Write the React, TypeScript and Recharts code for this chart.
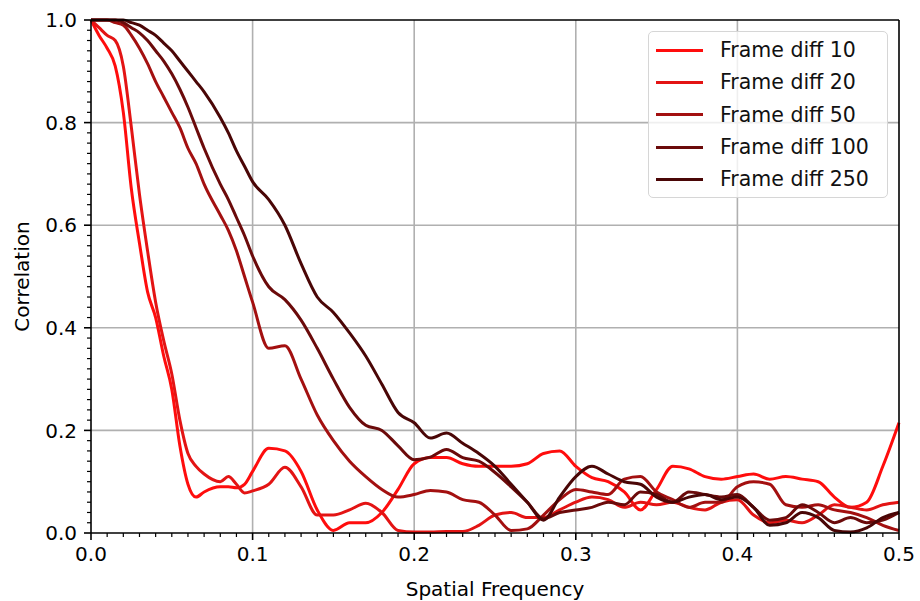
import { LineChart, Line, XAxis, YAxis, ReferenceLine, Legend } from 'recharts';

// spatial frequency samples (denser near 0 where the curves drop fast)
const freq = [
    0, 0.005, 0.01, 0.015, 0.02, 0.025, 0.03, 0.035, 0.04, 0.045, 0.05, 0.055, 0.06, 0.065, 0.07,
    0.08, 0.085, 0.09, 0.095, 0.1, 0.11, 0.12, 0.13, 0.14, 0.15, 0.16, 0.17, 0.18, 0.19, 0.2, 0.21, 0.22, 0.23,
    0.24, 0.25, 0.26, 0.27, 0.28, 0.29, 0.3, 0.31, 0.32, 0.33, 0.34, 0.35, 0.36, 0.37, 0.38, 0.39,
    0.4, 0.41, 0.42, 0.43, 0.44, 0.45, 0.46, 0.47, 0.48, 0.49, 0.5,
];

const fd10 = [
    1.0, 0.97, 0.945, 0.91, 0.82, 0.67, 0.565, 0.47, 0.42, 0.345, 0.28, 0.17, 0.095, 0.07, 0.08,
    0.09, 0.09, 0.088, 0.095, 0.12, 0.165, 0.16, 0.12, 0.045, 0.005, 0.02, 0.02, 0.04, 0.085, 0.135, 0.147, 0.147, 0.135,
    0.13, 0.13, 0.13, 0.135, 0.155, 0.16, 0.13, 0.108, 0.1, 0.08, 0.045, 0.085, 0.13, 0.125, 0.11, 0.105,
    0.11, 0.115, 0.105, 0.11, 0.105, 0.1, 0.07, 0.05, 0.06, 0.13, 0.215,
];

const fd20 = [
    1.0, 0.985, 0.97, 0.96, 0.91, 0.79, 0.66, 0.55, 0.45, 0.375, 0.31, 0.22, 0.155, 0.13, 0.115,
    0.1, 0.11, 0.095, 0.078, 0.082, 0.095, 0.128, 0.09, 0.035, 0.035, 0.045, 0.058, 0.04, 0.005, 0.002, 0.002, 0.003, 0.003,
    0.015, 0.035, 0.04, 0.03, 0.03, 0.045, 0.06, 0.07, 0.065, 0.05, 0.06, 0.055, 0.06, 0.05, 0.045, 0.06,
    0.065, 0.035, 0.02, 0.025, 0.02, 0.035, 0.055, 0.05, 0.045, 0.055, 0.06,
];

const fd50 = [
    1.0, 1.0, 1.0, 0.995, 0.99, 0.97, 0.945, 0.915, 0.88, 0.85, 0.82, 0.79, 0.75, 0.72, 0.68,
    0.62, 0.59, 0.55, 0.5, 0.45, 0.36, 0.365, 0.3, 0.23, 0.18, 0.14, 0.11, 0.085, 0.07, 0.075, 0.083, 0.08, 0.065,
    0.06, 0.035, 0.005, 0.008, 0.035, 0.065, 0.085, 0.08, 0.075, 0.105, 0.11, 0.08, 0.065, 0.05, 0.06, 0.06,
    0.09, 0.1, 0.095, 0.055, 0.05, 0.055, 0.045, 0.04, 0.03, 0.015, 0.005,
];

const fd100 = [
    1.0, 1.0, 1.0, 1.0, 0.995, 0.985, 0.975, 0.96, 0.94, 0.92, 0.895, 0.865, 0.83, 0.79, 0.75,
    0.68, 0.65, 0.615, 0.58, 0.54, 0.48, 0.455, 0.415, 0.36, 0.3, 0.245, 0.21, 0.2, 0.17, 0.143, 0.148, 0.163, 0.147,
    0.14, 0.118, 0.09, 0.06, 0.028, 0.04, 0.045, 0.05, 0.06, 0.055, 0.08, 0.075, 0.06, 0.08, 0.075, 0.07,
    0.075, 0.05, 0.025, 0.03, 0.055, 0.04, 0.02, 0.03, 0.02, 0.025, 0.04,
];

const fd250 = [
    1.0, 1.0, 1.0, 1.0, 1.0, 0.995, 0.99, 0.98, 0.97, 0.955, 0.94, 0.92, 0.9, 0.88, 0.86,
    0.81, 0.78, 0.745, 0.715, 0.685, 0.65, 0.6, 0.525, 0.46, 0.43, 0.39, 0.345, 0.29, 0.235, 0.215, 0.185, 0.195, 0.175,
    0.155, 0.13, 0.095, 0.06, 0.025, 0.07, 0.11, 0.13, 0.115, 0.1, 0.095, 0.07, 0.06, 0.07, 0.075, 0.065,
    0.07, 0.05, 0.015, 0.02, 0.04, 0.03, 0.005, 0.002, 0.01, 0.03, 0.04,
];

const series = [
    { key: 'fd10', name: 'Frame diff 10', color: '#ff0d0d', values: fd10 },
    { key: 'fd20', name: 'Frame diff 20', color: '#e31414', values: fd20 },
    { key: 'fd50', name: 'Frame diff 50', color: '#a31010', values: fd50 },
    { key: 'fd100', name: 'Frame diff 100', color: '#6b0a0a', values: fd100 },
    { key: 'fd250', name: 'Frame diff 250', color: '#4a0606', values: fd250 },
];

const xMajor = [0, 0.1, 0.2, 0.3, 0.4, 0.5];
const yMajor = [0, 0.2, 0.4, 0.6, 0.8, 1.0];
const xMinor = Array.from({ length: 51 }, (_, i) => i / 100);
const yMinor = Array.from({ length: 51 }, (_, i) => i / 50);

const data = freq.map((f, i) => {
    const row: Record<string, number> = { f };
    series.forEach((s) => (row[s.key] = s.values[i]));
    return row;
});

const FONT = '"DejaVu Sans", sans-serif';
const isMajor = (v: number, step: number) => Math.abs(v / step - Math.round(v / step)) < 1e-6;

const XTick = (props: any) => {
    const { x, y, payload } = props;
    const major = isMajor(payload.value, 0.1);
    return (
        <g>
            <line x1={x} x2={x} y1={y} y2={y + (major ? 7 : 4)} stroke="#000" strokeWidth={major ? 1.6 : 1.2} />
            {major && (
                <text x={x} y={y + 28} textAnchor="middle" fontFamily={FONT} fontSize={20} fill="#000">
                    {payload.value.toFixed(1)}
                </text>
            )}
        </g>
    );
};

const YTick = (props: any) => {
    const { x, y, payload } = props;
    const major = isMajor(payload.value, 0.2);
    return (
        <g>
            <line x1={x} x2={x - (major ? 7 : 4)} y1={y} y2={y} stroke="#000" strokeWidth={major ? 1.6 : 1.2} />
            {major && (
                <text x={x - 14} y={y} dy="0.36em" textAnchor="end" fontFamily={FONT} fontSize={20} fill="#000">
                    {payload.value.toFixed(1)}
                </text>
            )}
        </g>
    );
};

const renderLegend = () => (
    <div
        style={{
            boxSizing: 'border-box',
            width: 240,
            height: 167,
            border: '1.6px solid #d6d6d6',
            borderRadius: 5,
            background: 'rgba(255,255,255,0.8)',
            paddingTop: 2,
            fontFamily: FONT,
            fontSize: 20.5,
            color: '#111',
        }}
    >
        {series.map((s) => (
            <div key={s.key} style={{ display: 'flex', alignItems: 'center', height: 32.3 }}>
                <span style={{ display: 'inline-block', width: 47, height: 3, marginLeft: 7, background: s.color }} />
                <span style={{ marginLeft: 17, whiteSpace: 'nowrap' }}>{s.name}</span>
            </div>
        ))}
    </div>
);

export default function App() {
    return (
        <div style={{ position: 'fixed', left: 0, top: 0, width: 920, height: 601, background: '#fff' }}>
            <LineChart width={920} height={601} data={data} margin={{ top: 20, right: 21, left: 0, bottom: 0 }}>
                {xMajor.slice(1, -1).map((v) => (
                    <ReferenceLine key={`gx${v}`} x={v} stroke="#b0b0b0" strokeWidth={1.6} zIndex={-100} />
                ))}
                {yMajor.slice(1, -1).map((v) => (
                    <ReferenceLine key={`gy${v}`} y={v} stroke="#b0b0b0" strokeWidth={1.6} zIndex={-100} />
                ))}
                <XAxis
                    dataKey="f"
                    type="number"
                    domain={[0, 0.5]}
                    ticks={xMinor}
                    interval={0}
                    height={68}
                    tickSize={0}
                    tickMargin={0}
                    tick={XTick}
                    axisLine={{ stroke: '#000', strokeWidth: 1.6 }}
                    label={{
                        value: 'Spatial Frequency',
                        position: 'insideBottom',
                        offset: 5,
                        style: { fontFamily: FONT, fontSize: 20, fill: '#000' },
                    }}
                />
                <YAxis
                    type="number"
                    domain={[0, 1]}
                    ticks={yMinor}
                    interval={0}
                    width={91}
                    tickSize={0}
                    tickMargin={0}
                    tick={YTick}
                    axisLine={{ stroke: '#000', strokeWidth: 1.6 }}
                    label={{
                        value: 'Correlation',
                        angle: -90,
                        position: 'insideLeft',
                        offset: 22,
                        style: { fontFamily: FONT, fontSize: 20, fill: '#000', textAnchor: 'middle' },
                    }}
                />
                {series.map((s) => (
                    <Line
                        key={s.key}
                        dataKey={s.key}
                        name={s.name}
                        type="monotone"
                        stroke={s.color}
                        strokeWidth={3}
                        dot={false}
                        isAnimationActive={false}
                    />
                ))}
                <ReferenceLine x={0.5} stroke="#000" strokeWidth={1.6} />
                <ReferenceLine y={1} stroke="#000" strokeWidth={1.6} />
                <Legend
                    layout="horizontal"
                    verticalAlign="middle"
                    align="center"
                    wrapperStyle={{ left: 648, top: 31, width: 240 }}
                    content={renderLegend}
                />
            </LineChart>
        </div>
    );
}
